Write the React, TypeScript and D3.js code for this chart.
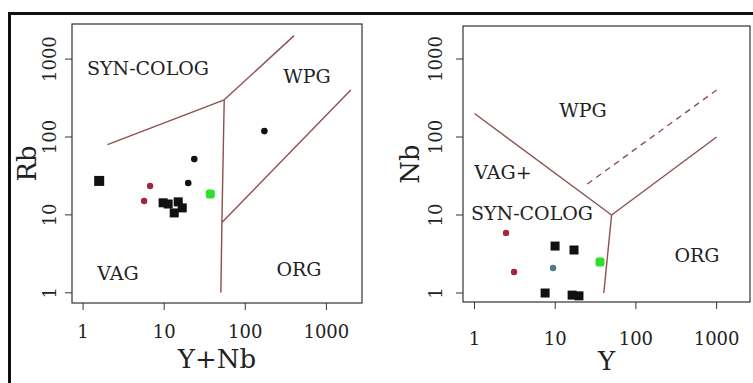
import * as d3 from "d3";

// Panel A: Rb vs Y+Nb (Pearce et al. 1984)
const rbSquareX = [9.7, 11.2, 14.9, 16.7, 13.3];
const rbSquareY = [14.3, 13.8, 14.7, 12.3, 10.6];
const rbBigSquareX = [1.58];
const rbBigSquareY = [27.3];
const rbDotX = [19.8, 23.5, 172];
const rbDotY = [25.7, 52, 119];
const rbRedX = [6.7, 5.66];
const rbRedY = [23.5, 15.1];
const rbGreenX = [37];
const rbGreenY = [18.6];

// Panel B: Nb vs Y
const nbSquareX = [9.96, 17.1, 7.5, 16.2, 19.7];
const nbSquareY = [4.0, 3.56, 1.0, 0.94, 0.92];
const nbRedX = [2.46, 3.09];
const nbRedY = [5.9, 1.86];
const nbBlueX = [9.4];
const nbBlueY = [2.09];
const nbGreenX = [35.9];
const nbGreenY = [2.5];

const tickValues = [1, 10, 100, 1000];

const rbLines: [number, number][][] = [
  [[2, 80], [55, 300]],
  [[55, 300], [400, 2000]],
  [[55, 300], [51.5, 8], [50, 1]],
  [[51.5, 8], [2000, 400]],
];
const nbLines: [number, number][][] = [
  [[1, 200], [50, 10]],
  [[50, 10], [40, 1]],
  [[50, 10], [1000, 100]],
];
const nbDashed: [number, number][][] = [[[25, 25], [1000, 400]]];

const FONT = "'DejaVu Serif', serif";
const LINE = "#8e4f4f";

type Label = { text: string; x: number; y: number };

function Panel(props: {
  box: [number, number, number, number];
  xDomain: [number, number];
  yDomain: [number, number];
  xTitle: string;
  yTitle: string;
  yTitleX: number;
  yTickX: number;
  xTickY: number;
  xTitleY: number;
  lines: [number, number][][];
  dashed: [number, number][][];
  labels: Label[];
  children: (x: d3.ScaleLogarithmic<number, number>, y: d3.ScaleLogarithmic<number, number>) => any;
}) {
  const [x0, y0, x1, y1] = props.box;
  const x = d3.scaleLog().domain(props.xDomain).range([x0, x1]);
  const y = d3.scaleLog().domain(props.yDomain).range([y1, y0]);
  const line = d3
    .line<[number, number]>()
    .x((d) => x(d[0]))
    .y((d) => y(d[1]));
  return (
    <g>
      <rect x={x0} y={y0} width={x1 - x0} height={y1 - y0} fill="white" stroke="#333" strokeWidth={1.2} />
      {props.lines.map((l, i) => (
        <path key={i} d={line(l) || ""} fill="none" stroke={LINE} strokeWidth={1.4} />
      ))}
      {props.dashed.map((l, i) => (
        <path key={i} d={line(l) || ""} fill="none" stroke={LINE} strokeWidth={1.4} strokeDasharray="6,5" />
      ))}
      {props.labels.map((l) => (
        <text key={l.text} x={l.x} y={l.y} fontFamily={FONT} fontSize={19} fill="#222" textAnchor="middle" dominantBaseline="central">
          {l.text}
        </text>
      ))}
      {props.children(x, y)}
      {tickValues.map((v) => (
        <g key={"x" + v}>
          <line x1={x(v)} x2={x(v)} y1={y1} y2={y1 + 7} stroke="#333" />
          <text x={x(v)} y={props.xTickY} fontFamily={FONT} fontSize={18} fill="#222" textAnchor="middle">
            {v}
          </text>
        </g>
      ))}
      {tickValues.map((v) => (
        <g key={"y" + v}>
          <line x1={x0 - 7} x2={x0} y1={y(v)} y2={y(v)} stroke="#333" />
          <text
            transform={`translate(${props.yTickX},${y(v)}) rotate(-90)`}
            fontFamily={FONT}
            fontSize={18}
            fill="#222"
            textAnchor="middle"
          >
            {v}
          </text>
        </g>
      ))}
      <text x={(x0 + x1) / 2} y={props.xTitleY} fontFamily={FONT} fontSize={26} fill="#222" textAnchor="middle">
        {props.xTitle}
      </text>
      <text
        transform={`translate(${props.yTitleX},${(y0 + y1) / 2}) rotate(-90)`}
        fontFamily={FONT}
        fontSize={26}
        fill="#222"
        textAnchor="middle"
      >
        {props.yTitle}
      </text>
    </g>
  );
}

function squares(xs: number[], ys: number[], x: any, y: any, size: number, fill: string, rx = 0) {
  return xs.map((v, i) => (
    <rect key={fill + i} x={x(v) - size / 2} y={y(ys[i]) - size / 2} width={size} height={size} rx={rx} fill={fill} />
  ));
}
function dots(xs: number[], ys: number[], x: any, y: any, r: number, fill: string) {
  return xs.map((v, i) => <circle key={fill + i} cx={x(v)} cy={y(ys[i])} r={r} fill={fill} />);
}

export default function App() {
  return (
    <svg width={753} height={383} style={{ position: "absolute", left: 0, top: 0, background: "white" }}>
      <rect x={0} y={0} width={753} height={383} fill="white" />
      <Panel
        box={[72, 24, 362, 303]}
        xDomain={[0.73, 2750]}
        yDomain={[0.74, 2820]}
        xTitle="Y+Nb"
        yTitle="Rb"
        yTitleX={36}
        yTickX={56}
        xTickY={338}
        xTitleY={368}
        lines={rbLines}
        dashed={[]}
        labels={[
          { text: "SYN-COLOG", x: 148, y: 68 },
          { text: "WPG", x: 307, y: 76 },
          { text: "VAG", x: 118, y: 273 },
          { text: "ORG", x: 299, y: 269 },
        ]}
      >
        {(x, y) => (
          <g>
            {squares(rbBigSquareX, rbBigSquareY, x, y, 10, "#111")}
            {squares(rbSquareX, rbSquareY, x, y, 9, "#111")}
            {dots(rbDotX, rbDotY, x, y, 3.3, "#111")}
            {dots(rbRedX, rbRedY, x, y, 3.2, "#a8243a")}
            {squares(rbGreenX, rbGreenY, x, y, 9, "#2ee02e", 2.5)}
          </g>
        )}
      </Panel>
      <Panel
        box={[463, 26, 750, 302]}
        xDomain={[0.72, 2594]}
        yDomain={[0.767, 2650]}
        xTitle="Y"
        yTitle="Nb"
        yTitleX={419}
        yTickX={442}
        xTickY={345}
        xTitleY={370}
        lines={nbLines}
        dashed={nbDashed}
        labels={[
          { text: "WPG", x: 583, y: 110 },
          { text: "VAG+", x: 503, y: 172 },
          { text: "SYN-COLOG", x: 532, y: 213 },
          { text: "ORG", x: 697, y: 255 },
        ]}
      >
        {(x, y) => (
          <g>
            {squares(nbSquareX, nbSquareY, x, y, 9, "#111")}
            {dots(nbRedX, nbRedY, x, y, 3.2, "#a8243a")}
            {dots(nbBlueX, nbBlueY, x, y, 3.2, "#4d7d8c")}
            {squares(nbGreenX, nbGreenY, x, y, 9, "#2ee02e", 2.5)}
          </g>
        )}
      </Panel>
      <path d="M9.5,383 L9.5,13.5 L753,13.5" fill="none" stroke="#111" strokeWidth={3} />
    </svg>
  );
}
